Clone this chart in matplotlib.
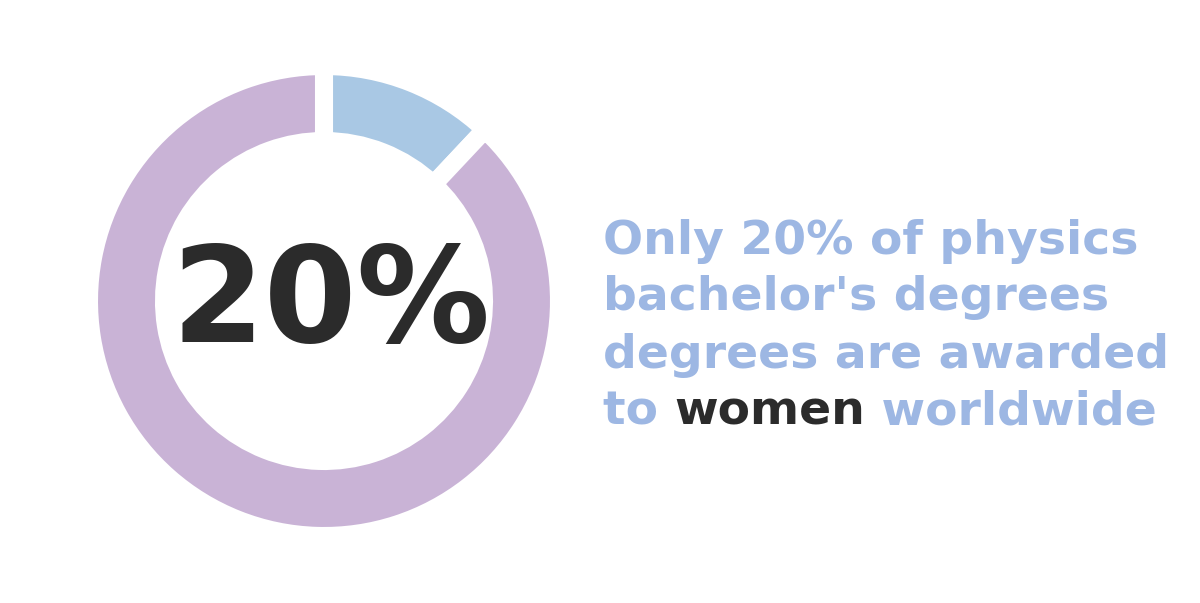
import matplotlib
matplotlib.use("Agg")
import matplotlib.pyplot as plt

# data
labels = ["Women", "Men"]
values = [12, 88]
colors = ["#a9c8e4", "#c9b3d6"]
big_label = "20%"
lines = [
    [("Only 20% of physics", "#9db7e3")],
    [("bachelor's degrees", "#9db7e3")],
    [("degrees are awarded", "#9db7e3")],
    [("to ", "#9db7e3"), ("women", "#2b2b2b"), (" worldwide", "#9db7e3")],
]

W, H = 1200, 603
fig = plt.figure(figsize=(W / 100, H / 100), dpi=100)
fig.patch.set_facecolor("white")

cx, cy, half = 324, 301, 240
ax = fig.add_axes([(cx - half) / W, (H - cy - half) / H, 2 * half / W, 2 * half / H])
ax.set_xlim(-1, 1)
ax.set_ylim(-1, 1)
ax.set_aspect("equal")
ax.axis("off")

R = 235 / half
width = 75 / half
ax.pie(values, colors=colors, startangle=90, counterclock=False, radius=R,
       wedgeprops=dict(width=width, edgecolor="white", linewidth=13))
ax.set_xlim(-1, 1)
ax.set_ylim(-1, 1)

ax.text(0.03, -0.015, big_label, ha="center", va="center", fontsize=96,
        fontweight="bold", color="#2b2b2b", family="DejaVu Sans")

renderer = fig.canvas.get_renderer()
x0 = 603 / W
y_centers = [236, 293, 350, 407]
for line, yc in zip(lines, y_centers):
    x = x0
    for txt, col in line:
        t = fig.text(x, 1 - yc / H, txt, ha="left", va="center_baseline", fontsize=34,
                     color=col, family="DejaVu Sans", fontweight="bold")
        bb = t.get_window_extent(renderer=renderer)
        x = bb.x1 / W

fig.savefig("out.png", dpi=100, facecolor="white")
